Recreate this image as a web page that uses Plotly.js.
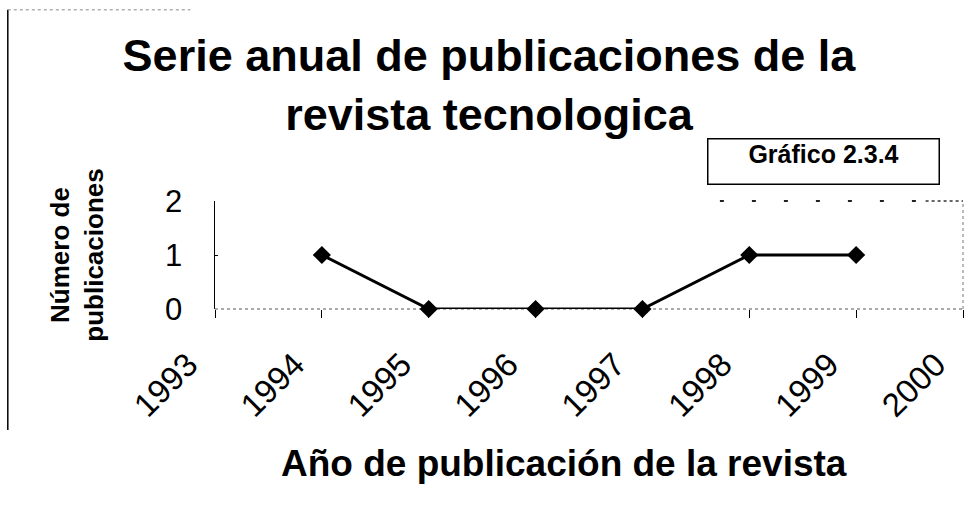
<!DOCTYPE html>
<html>
<head>
<meta charset="utf-8">
<script src="https://cdn.plot.ly/plotly-3.0.1.min.js"></script>
<style>body{margin:0;background:#fff}#chart{width:978px;height:511px}</style>
</head>
<body>
<div id="chart"></div>
<script>
const years = [1994, 1995, 1996, 1997, 1998, 1999];
const publicaciones = [1, 0, 0, 0, 1, 1];
const tickYears = [1993, 1994, 1995, 1996, 1997, 1998, 1999, 2000];
const tickLabels = ['1993', '1994', '1995', '1996', '1997', '1998', '1999', '2000'];

const trace = {
  x: years, y: publicaciones, type: 'scatter', mode: 'lines+markers',
  line: {color: '#000', width: 3},
  marker: {symbol: 'diamond', size: 14, color: '#000'},
  cliponaxis: false, showlegend: false
};

const F = 'Arial, "Liberation Sans", sans-serif';
const layout = {
  width: 978, height: 511,
  margin: {l: 215, r: 15, t: 201, b: 202},
  paper_bgcolor: '#fff', plot_bgcolor: '#fff',
  font: {family: F, color: '#000'},
  title: {
    text: '<b>Serie anual de publicaciones de la<br>revista tecnologica</b>',
    font: {size: 45, family: F, color: '#000'},
    x: 0.5, xanchor: 'center', y: 0.861, yanchor: 'top'
  },
  xaxis: {
    range: [1993, 2000], tickvals: tickYears, ticktext: tickLabels,
    tickangle: -45, tickfont: {size: 33, family: F},
    ticks: 'outside', ticklen: 8, tickcolor: '#000', tickwidth: 1,
    ticklabelshift: -27, ticklabelstandoff: 14,
    showgrid: false, zeroline: false, showline: false
  },
  yaxis: {
    range: [0, 2], tickvals: [0, 1, 2], ticktext: ['0', '1', '2'],
    tickfont: {size: 31, family: F},
    ticks: 'inside', ticklen: 3, tickcolor: '#000',
    showgrid: false, zeroline: false, showline: true, linecolor: '#000', linewidth: 1.5,
    ticklabelstandoff: 25,
    title: {text: '<b>Número de<br>publicaciones</b>', font: {size: 26, family: F}, standoff: 54}
  },
  shapes: [
    {type: 'line', xref: 'paper', yref: 'paper', x0: 0, x1: 1, y0: 0, y1: 0, line: {color: '#555', width: 1, dash: 'dot'}, layer: 'below'},
    {type: 'line', xref: 'paper', yref: 'paper', x0: 1, x1: 1, y0: 0, y1: 1, line: {color: '#777', width: 1, dash: 'dot'}},
    {type: 'line', xref: 'paper', yref: 'paper', x0: 0.675, x1: 0.95, y0: 1, y1: 1, line: {color: '#222', width: 2, dash: '4px,28px'}},
    {type: 'line', xref: 'paper', yref: 'paper', x0: 0.95, x1: 1, y0: 1, y1: 1, line: {color: '#333', width: 1.5, dash: 'dot'}},
    {type: 'line', xref: 'paper', yref: 'paper', x0: -0.277, x1: -0.277, y0: 2.77, y1: -1.12, line: {color: '#000', width: 1.5}},
    {type: 'line', xref: 'paper', yref: 'paper', x0: -0.277, x1: -0.033, y0: 2.77, y1: 2.77, line: {color: '#888', width: 1, dash: 'dot'}}
  ],
  annotations: [
    {text: '<b>Gráfico 2.3.4</b>', xref: 'paper', yref: 'paper', x: 0.814, y: 1.37,
     xanchor: 'center', yanchor: 'middle', showarrow: false,
     font: {size: 25, family: F, color: '#000'},
     bordercolor: '#000', borderwidth: 1.5, width: 230, height: 44, borderpad: 0, align: 'center', valign: 'top'},
    {text: '<b>Año de publicación de la revista</b>', xref: 'paper', yref: 'paper', x: 0.467, y: -1.426,
     xanchor: 'center', yanchor: 'middle', showarrow: false,
     font: {size: 37, family: F, color: '#000'}}
  ]
};

Plotly.newPlot('chart', [trace], layout, {displayModeBar: false, staticPlot: true});
</script>
</body>
</html>
